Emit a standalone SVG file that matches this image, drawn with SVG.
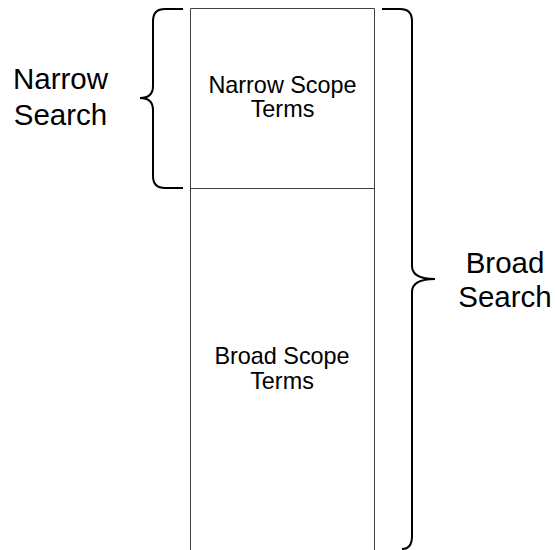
<svg xmlns="http://www.w3.org/2000/svg" width="556" height="550" viewBox="0 0 556 550">
<style>
.box{fill:none;stroke:#404040;stroke-width:1}
.brace{fill:none;stroke:#000;stroke-width:2}
.big{font-family:"Liberation Sans",Arial,sans-serif;font-size:29.5px;fill:#000;text-anchor:middle}
.small{font-family:"Liberation Sans",Arial,sans-serif;font-size:23.4px;fill:#000;text-anchor:middle}
</style>
<rect width="556" height="550" fill="#fff"/>
<g id="column">
<line class="box" x1="190.5" y1="8.5" x2="374.5" y2="8.5"/>
<line class="box" x1="190.5" y1="8.5" x2="190.5" y2="560"/>
<line class="box" x1="374.5" y1="8.5" x2="374.5" y2="560"/>
</g>
<g id="narrow-scope">
<line class="box" x1="190.5" y1="188.5" x2="374.5" y2="188.5"/>
<text class="small" x="282.5" y="92.5">Narrow Scope</text>
<text class="small" x="282.5" y="117">Terms</text>
</g>
<g id="broad-scope">
<text class="small" x="282" y="364">Broad Scope</text>
<text class="small" x="282" y="388.5">Terms</text>
</g>
<g id="connectors">
<path class="brace" d="M183,9 H165 Q153,9 153,21 V86 Q153,98 140,98 Q153,98 153,110 V176 Q153,188 165,188 H183"/>
<path class="brace" d="M382,9 H400 Q412,9 412,21 V266 Q412,279 435,279 Q412,279 412,292 V536 Q412,549 402,549"/>
</g>
<g id="narrow-search">
<text class="big" x="60.5" y="89">Narrow</text>
<text class="big" x="60.5" y="124.5">Search</text>
</g>
<g id="broad-search">
<text class="big" x="505" y="272.5">Broad</text>
<text class="big" x="505" y="307">Search</text>
</g>
</svg>
